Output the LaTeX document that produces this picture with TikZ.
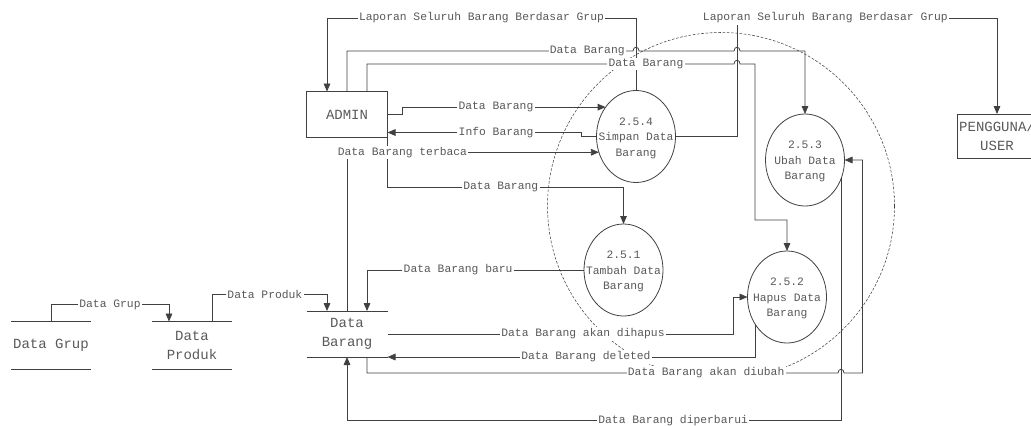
\documentclass[tikz,border=0pt]{standalone}
\usepackage{fontspec}
\setmainfont{Liberation Mono}
\usetikzlibrary{shapes.geometric, arrows.meta}
\newcommand{\proctext}[1]{\smash{\raisebox{-3pt}{\makebox[0pt]{\begin{tabular}{@{}c@{}}#1\end{tabular}}}}}
\definecolor{ln}{gray}{0.25}
\definecolor{txt}{gray}{0.35}

\begin{document}
\begin{tikzpicture}[x=0.75pt, y=-0.75pt,
    flow/.style={draw=ln, line width=0.6pt, -{Triangle[length=6pt,width=5pt]}},
    lbl/.style={fill=white, inner sep=1pt, text=txt, font=\fontsize{8.5}{10}\selectfont},
    box/.style={draw=ln, line width=0.6pt, inner sep=0pt, outer sep=0pt, text=txt, align=center, font=\fontsize{10.5}{14}\selectfont},
    proc/.style={ellipse, draw=ln, line width=0.6pt, inner sep=0pt, outer sep=0pt, minimum width=59.25pt, minimum height=69pt, text=txt, font=\fontsize{8.5}{11.6}\selectfont},
    store/.style={inner sep=0pt, outer sep=0pt, minimum width=60pt, text=txt, align=center, font=\fontsize{10.5}{14}\selectfont}]
    \useasboundingbox (0,0) rectangle (1031,425);
    \draw[ln, line width=0.4pt, dash pattern=on 2pt off 1.2pt] (721,206) circle[radius=173.5];

    \node[box, minimum width=60.75pt, minimum height=34.5pt] (admin) at (347,114.5) {ADMIN};
    \node[box, minimum width=60pt, minimum height=33pt] (user) at (997,136) {PENGGUNA/\\USER};
    \node[proc] (simpan) at (636,136.5) {\proctext{2.5.4\\Simpan Data\\Barang}};
    \node[proc] (ubah) at (805,160) {\proctext{2.5.3\\Ubah Data\\Barang}};
    \node[proc] (tambah) at (623.5,270) {\proctext{2.5.1\\Tambah Data\\Barang}};
    \node[proc] (hapus) at (787,297) {\proctext{2.5.2\\Hapus Data\\Barang}};
    \node[store, minimum height=36pt] (grup) at (51,345.5) {Data Grup};
    \node[store, minimum height=36pt] (produk) at (192,345.5) {Data\\Produk};
    \node[store, minimum height=34.5pt, minimum width=60.75pt] (barang) at (347,334) {Data\\Barang};
    \foreach \s in {grup, produk, barang}
        \draw[ln, line width=0.6pt] (\s.north west) -- (\s.north east) (\s.south west) -- (\s.south east);

    \draw[flow] (simpan.north) |- node[lbl,pos=0.75]{Laporan Seluruh Barang Berdasar Grup} (327,18) -- ([xshift=-15pt]admin.north);
    \draw[flow] (simpan.east) -| (737,18) -| node[lbl,pos=0.17]{Laporan Seluruh Barang Berdasar Grup} (user.north);
    \draw[flow] (admin.north) |- node[lbl,pos=0.92]{Data Barang} (633,51) .. controls (633,46) and (639,46) .. (639,51) -- (734,51) .. controls (734,46) and (740,46) .. (740,51) -| (ubah.north);
    \draw[flow] ([xshift=15pt]admin.north) |- node[lbl,pos=0.88]{Data Barang} (734,64) .. controls (734,59) and (740,59) .. (740,64) -| (755,220) -| (hapus.north);
    \draw[flow] (admin.east) -- ++(15,0) |- node[lbl,pos=0.73]{Data Barang} (simpan.136);
    \draw[flow] (simpan.west) -- ++(-15,0) |- node[lbl,pos=0.72]{Info Barang} ([yshift=3.75pt]admin.south east);
    \draw[flow] (admin.south east) -- ++(0,49.5) -| node[lbl,pos=0.24]{Data Barang} (tambah.north);
    \draw[flow] (barang.north) |- node[lbl,pos=0.61]{Data Barang terbaca} (simpan.203.6);
    \draw[flow] (tambah.west) -| node[lbl,pos=0.29]{Data Barang baru} ([xshift=15pt]barang.north);
    \draw[flow] (grup.north) -- ++(0,-17) -| node[lbl,pos=0.25]{Data Grup} ([xshift=-17.25pt]produk.north);
    \draw[flow] ([xshift=15pt]produk.north) -- ++(0,-27) -| node[lbl,pos=0.23]{Data Produk} ([xshift=-15pt]barang.north);
    \draw[flow] (barang.east) -- node[lbl,pos=0.565]{Data Barang akan dihapus} ++(346,0) |- (hapus.west);
    \draw[flow] (hapus.220) |- node[lbl,pos=0.73]{Data Barang deleted} (barang.south east);
    \draw[flow] ([xshift=15pt]barang.south) |- node[lbl,pos=0.86]{Data Barang akan diubah} (838,373) .. controls (838,368) and (844,368) .. (844,373) -- ++(18.5,0) |- (ubah.east);
    \draw[flow] (ubah.-27.7) -- ++(0,242) -| node[lbl,pos=0.17]{Data Barang diperbarui} (barang.south);
\end{tikzpicture}
\end{document}
